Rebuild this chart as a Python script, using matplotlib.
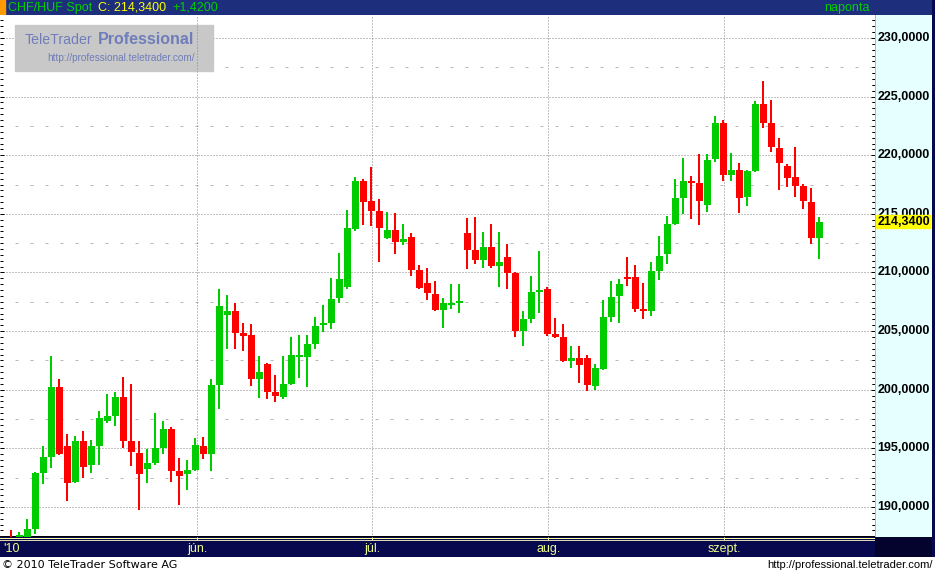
import matplotlib
matplotlib.use("Agg")
import matplotlib.pyplot as plt
import matplotlib.transforms as mtransforms
from matplotlib.patches import Rectangle
from matplotlib.ticker import MultipleLocator
import numpy as np

plt.rcParams['font.family'] = ['Liberation Sans', 'DejaVu Sans']

# daily CHF/HUF candles (end of April .. mid September 2010)
opens = [187.35, 187.20, 187.30, 188.12, 192.90, 194.26, 200.23, 195.20, 192.13, 195.63,
         193.58, 195.20, 197.33, 197.76, 199.38, 195.63, 194.60, 193.24, 193.75, 195.03,
         196.65, 193.07, 192.81, 193.16, 195.20, 194.52, 200.40, 206.37, 206.71, 204.84,
         204.67, 200.92, 202.19, 199.81, 199.38, 200.49, 202.79, 202.79, 203.90, 205.52,
         205.69, 207.83, 208.76, 213.71, 217.80, 216.10, 215.25, 212.94, 213.62, 212.60,
         213.00, 210.21, 209.10, 208.17, 206.80, 207.23, 207.40, 213.37, 211.92, 211.07,
         212.18, 210.56, 211.32, 209.96, 205.01, 206.03, 208.34, 208.59, 204.75, 204.50,
         202.45, 202.71, 202.71, 200.32, 201.77, 206.21, 208.00, 209.62, 209.62, 206.89,
         206.72, 210.13, 211.58, 214.14, 216.35, 217.80, 217.63, 215.76, 219.68, 222.75,
         218.32, 218.74, 216.44, 218.66, 224.37, 222.75, 220.62, 219.08, 218.14, 217.38,
         216.01, 212.94]
highs = [188.04, 187.87, 188.98, 192.98, 195.20, 202.88, 200.92, 196.23, 196.05, 196.48,
         195.71, 198.19, 199.64, 199.81, 201.09, 200.49, 195.63, 194.95, 198.02, 197.33,
         196.82, 194.18, 194.01, 195.88, 195.97, 200.92, 208.59, 208.08, 207.40, 205.69,
         205.61, 202.88, 202.28, 201.26, 202.88, 204.50, 204.67, 204.67, 206.20, 207.23,
         209.53, 211.66, 215.33, 218.15, 217.97, 219.00, 216.27, 215.16, 215.07, 214.14,
         213.37, 210.64, 210.38, 209.27, 207.83, 209.02, 209.02, 214.65, 214.73, 213.46,
         214.14, 213.46, 212.43, 210.04, 206.72, 209.70, 211.83, 208.76, 206.12, 205.61,
         203.73, 203.73, 202.96, 202.20, 207.66, 209.28, 209.45, 211.32, 210.64, 209.10,
         210.90, 213.11, 214.82, 217.97, 219.77, 218.23, 220.11, 220.11, 223.35, 223.01,
         220.19, 219.34, 218.74, 224.63, 226.33, 224.71, 221.47, 219.25, 220.70, 217.55,
         217.21, 214.73]
lows = [186.60, 187.00, 187.10, 187.70, 191.96, 193.32, 194.45, 190.51, 192.05, 192.47,
        192.90, 193.58, 197.16, 196.91, 195.03, 193.50, 189.74, 192.05, 193.58, 194.52,
        192.13, 190.17, 191.45, 193.07, 194.09, 193.07, 198.36, 203.47, 203.47, 203.30,
        200.32, 199.29, 199.21, 198.95, 199.21, 200.40, 201.00, 200.23, 203.47, 204.93,
        205.18, 207.40, 208.59, 213.54, 214.05, 213.97, 210.90, 212.86, 211.58, 212.35,
        209.70, 208.59, 207.65, 206.72, 205.27, 206.89, 206.55, 210.30, 210.72, 210.38,
        210.38, 208.76, 208.59, 204.50, 203.73, 205.69, 206.55, 204.58, 204.41, 202.37,
        201.85, 200.58, 199.89, 199.98, 201.68, 205.78, 205.69, 208.85, 206.63, 206.03,
        206.29, 209.36, 210.72, 214.05, 214.99, 214.56, 214.05, 215.16, 219.42, 217.80,
        217.80, 215.07, 215.67, 218.57, 222.32, 220.28, 217.04, 217.29, 216.44, 215.42,
        212.43, 211.15]
closes = [186.90, 187.64, 188.12, 192.90, 194.26, 200.23, 194.52, 192.05, 195.63, 193.41,
          195.20, 197.59, 197.76, 199.38, 195.63, 194.69, 192.81, 193.75, 195.03, 196.65,
          193.07, 192.64, 193.16, 195.29, 194.52, 200.40, 207.14, 206.71, 204.84, 204.58,
          200.92, 201.51, 199.81, 199.47, 200.49, 202.96, 202.96, 203.90, 205.44, 205.69,
          207.74, 209.44, 213.80, 217.80, 216.01, 215.25, 213.80, 213.62, 212.60, 212.86,
          210.21, 208.68, 208.25, 206.80, 207.40, 207.40, 207.48, 211.92, 211.07, 212.18,
          210.56, 210.90, 209.96, 205.01, 206.03, 208.34, 208.51, 204.75, 204.50, 202.45,
          202.71, 202.11, 200.40, 201.85, 206.21, 207.91, 209.02, 209.45, 206.89, 206.72,
          210.13, 211.41, 214.14, 216.35, 217.80, 217.63, 216.10, 219.60, 222.75, 218.32,
          218.74, 216.35, 218.66, 224.37, 222.75, 220.70, 219.34, 218.06, 217.38, 216.10,
          212.94, 214.34]

month_labels = ["jún.", "júl.", "aug.", "szept."]
month_pos = [23.25, 45.17, 67.17, 89.17]   # in candle-index units
year_label = "'10"
price_ticks = list(range(190, 231, 5))

GREEN = "#00cc00"
RED = "#ff0000"
NAVY_TOP = "#1c2e7c"
NAVY_BOT = "#08084f"
LOGO = "#6f7dba"

W, H = 935, 574
fig = plt.figure(figsize=(W / 100, H / 100), dpi=100)


def box(x0, y0, x1, y1):
    # pixel box (top-left origin) -> figure fraction rect
    return [x0 / W, 1 - y1 / H, (x1 - x0) / W, (y1 - y0) / H]


px = 0.72  # one pixel in points

# ---- main candle panel
ax = fig.add_axes(box(0, 15, 875, 537))
ax.set_xlim(-1.375, 108)
ax.set_ylim(187.44, 231.96)
for s in ("left", "right", "top"):
    ax.spines[s].set_visible(False)
ax.spines["bottom"].set_linewidth(2 * px)
ax.yaxis.set_major_locator(MultipleLocator(5))
ax.yaxis.set_minor_locator(MultipleLocator(0.5))
ax.tick_params(axis="y", which="both", direction="in", left=True, right=True,
               labelleft=False, width=px, color="black")
ax.tick_params(axis="y", which="major", length=3.2)
ax.tick_params(axis="y", which="minor", length=2.0)
ax.tick_params(axis="x", bottom=False, labelbottom=False)

for v in price_ticks:
    ax.axhline(v, color="#858585", lw=px, ls=(0, (1, 2)), zorder=0.3)
    ax.axhline(v + 2.5, color="#b8b8b8", lw=px, ls=(0, (3, 12)), zorder=0.3)
for p in month_pos:
    ax.axvline(p, color="#858585", lw=px, ls=(0, (1, 2)), zorder=1)

o, h, l, c = (np.array(a) for a in (opens, highs, lows, closes))
x = np.arange(len(c))
cols = np.where(c >= o, GREEN, RED)
ax.bar(x, h - l, bottom=l, width=0.25, color=cols, linewidth=0, zorder=3)
ax.bar(x, np.maximum(np.abs(c - o), 0.17), bottom=np.minimum(o, c), width=0.875,
       color=cols, linewidth=0, zorder=3)

# watermark logo (over the horizontal grid, under the month lines)
ax.add_patch(Rectangle((15 / 875, (537 - 71) / 522), 198 / 875, 46 / 522,
                       transform=ax.transAxes, color="#c8c8c8", zorder=0.5))
ax.text(25 / 875, (537 - 40) / 522, "TeleTrader", transform=ax.transAxes,
        fontsize=10.2, color=LOGO, va="center", ha="left", zorder=0.6)
ax.text(194 / 875, (537 - 40) / 522, "Professional", transform=ax.transAxes,
        fontsize=11.5, color=LOGO, va="center", ha="right", weight="bold", zorder=0.6)
ax.text(195 / 875, (537 - 58) / 522, "http://professional.teletrader.com/",
        transform=ax.transAxes, fontsize=7.2, color=LOGO, va="center", ha="right",
        zorder=0.6)

# ---- right price scale
ax2 = fig.add_axes(box(875, 15, 932, 537), sharey=ax)
ax2.set_facecolor("#e6ffff")
for s in ("right", "top", "bottom"):
    ax2.spines[s].set_visible(False)
ax2.spines["left"].set_color("#f0b030")
ax2.spines["left"].set_linewidth(px)
ax2.tick_params(left=False, labelleft=False, bottom=False, labelbottom=False)
tr = mtransforms.blended_transform_factory(ax2.transAxes, ax2.transData)
for v in price_ticks:
    ax2.text(0.5, v, f"{v},0000", transform=tr, ha="center", va="center",
             fontsize=9, color="black", weight="bold", zorder=1)
ax2.axhspan(c[-1] - 0.55, c[-1] + 0.55, xmin=1 / 57, xmax=55 / 57,
            color="#ffff00", zorder=2)
ax2.text(0.5, c[-1], f"{c[-1]:.4f}".replace(".", ","), transform=tr, ha="center",
         va="center", fontsize=9, color="black", weight="bold", zorder=3)

# ---- header bar
axh = fig.add_axes(box(0, 0, 935, 15))
axh.set_xlim(0, 935)
axh.set_ylim(15, 0)
axh.axis("off")
axh.add_patch(Rectangle((0, 0), 935, 15, color=NAVY_TOP))
axh.add_patch(Rectangle((0, 0), 5, 15, color="#ff9a00"))
axh.text(8, 8, "CHF/HUF Spot", color="#00d000", fontsize=9, va="center")
axh.text(98, 8, "C: 214,3400", color="#ffff00", fontsize=9, va="center")
axh.text(172, 8, "+1,4200", color="#00d000", fontsize=9, va="center")
axh.text(870, 8, "naponta", color="#00d000", fontsize=9, va="center", ha="right")

# ---- bottom date bar
axb = fig.add_axes(box(0, 537, 875, 557), sharex=ax)
axb.set_facecolor(NAVY_BOT)
axb.set_ylim(0, 1)
for s in axb.spines.values():
    s.set_visible(False)
axb.axhline(0.94, color="#ffffa0", lw=px)
axb.axhline(0.86, color="#d8d8b0", lw=px)
axb.set_xticks(month_pos)
axb.tick_params(axis="x", direction="in", top=True, bottom=False, labelbottom=False,
                color="#ffff90", length=2, width=px)
axb.tick_params(axis="y", left=False, labelleft=False)
for p, lab in zip(month_pos, month_labels):
    axb.text(p, 0.40, lab, ha="center", va="center", color="#eefc88", fontsize=9)
axb.text(3 / 875, 0.40, year_label, transform=axb.transAxes, ha="left", va="center",
         color="#eefc88", fontsize=9)

axb2 = fig.add_axes(box(875, 537, 935, 557))
axb2.set_facecolor("#03032e")
axb2.set_xticks([])
axb2.set_yticks([])
for s in axb2.spines.values():
    s.set_visible(False)

# right border strip
axr = fig.add_axes(box(932, 0, 935, 557))
axr.axis("off")
axr.add_patch(Rectangle((0, 0), 1, 1, color=NAVY_BOT, transform=axr.transAxes))

# ---- footer
fig.text(2 / W, 1 - 565 / H, "© 2010 TeleTrader Software AG", fontsize=8,
         family=["DejaVu Sans"], va="center", ha="left", color="black")
fig.text(933 / W, 1 - 565 / H, "http://professional.teletrader.com/", fontsize=8,
         va="center", ha="right", color="black")

fig.savefig("out.png", dpi=100)
